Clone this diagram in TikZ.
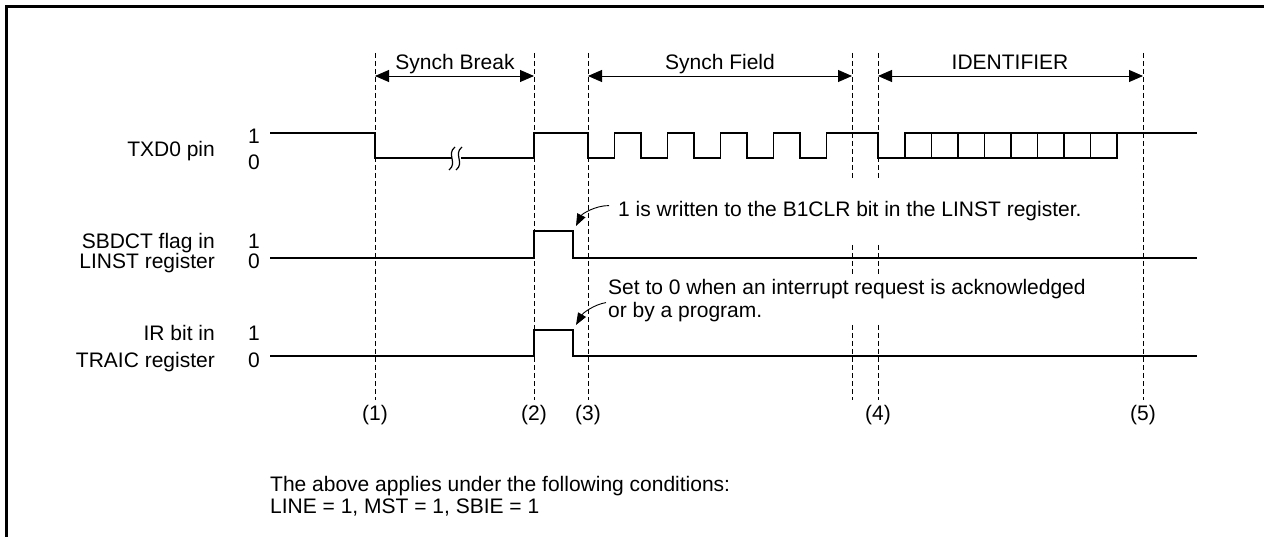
\documentclass[tikz,border=0pt]{standalone}
\usepackage{fontspec}
\setmainfont{Liberation Sans}
\usetikzlibrary{arrows.meta}
\tikzset{
    wave/.style={line width=1.4pt, line join=miter},
    guide/.style={line width=0.9pt, dash pattern=on 5pt off 3pt},
    span/.style={line width=0.9pt, {Triangle[length=14pt,width=12pt]}-{Triangle[length=14pt,width=12pt]}},
    callout/.style={line width=0.9pt, -{Triangle[length=12pt,width=9pt]}},
    txt/.style={inner sep=0pt, font=\fontsize{21}{23}\selectfont}
}

\begin{document}
\begin{tikzpicture}[x=1pt, y=-1pt]
    \useasboundingbox (0,0) rectangle (1264,537);
    \clip (0,0) rectangle (1264,537);
    \draw[line width=3pt] (6,545) -- (6,7) -- (1270,7);

    % guide lines
    \foreach \x in {375,534,588,1143}
        \draw[guide] (\x,53) -- (\x,400);
    \foreach \x in {852,878}
        \draw[guide] (\x,53) -- (\x,178) (\x,245) -- (\x,275) (\x,325) -- (\x,400);
    \foreach \x/\n in {375/1,534/2,588/3,878/4,1143/5}
        \node[txt] (mark\n) at (\x,415) {(\n)};

    % frame spans
    \coordinate (brkL) at (375,76);
    \coordinate (brkR) at (534,76);
    \coordinate (synL) at (588,76);
    \coordinate (synR) at (852,76);
    \coordinate (idL) at (878,76);
    \coordinate (idR) at (1143,76);
    \draw[span] (brkL) -- (brkR);
    \draw[span] (synL) -- (synR);
    \draw[span] (idL) -- (idR);
    \node[txt, anchor=base] (brk) at (455,70) {Synch Break};
    \node[txt, anchor=base] (syn) at (720,70) {Synch Field};
    \node[txt, anchor=base] (ident) at (1010,70) {IDENTIFIER};

    % signal names
    \node[txt, anchor=base east] (txd) at (215,157) {TXD0 pin};
    \node[txt, anchor=base] (txdhi) at (254,144) {1};
    \node[txt, anchor=base] (txdlo) at (254,170) {0};
    \node[txt, anchor=base east] (sbd) at (215,249) {SBDCT flag in};
    \node[txt, anchor=base east] (sbdreg) at (215,269) {LINST register};
    \node[txt, anchor=base] (sbdhi) at (254,249) {1};
    \node[txt, anchor=base] (sbdlo) at (254,269) {0};
    \node[txt, anchor=base east] (ir) at (215,341) {IR bit in};
    \node[txt, anchor=base east] (irreg) at (215,367) {TRAIC register};
    \node[txt, anchor=base] (irhi) at (254,341) {1};
    \node[txt, anchor=base] (irlo) at (254,367) {0};

    % TXD0
    \draw[wave] (270,133) -- (375,133) -- (375,158) -- (452,158);
    \draw[wave] (461,158) -- (534,158) -- (534,133) -- (588,133) -- (588,158)
        \foreach \k in {1,...,4} { -- ++(26.5,0) -- ++(0,-25) -- ++(26.5,0) -- ++(0,25) }
        -- (826.5,158) -- (826.5,133) -- (878,133) -- (878,158) -- (1117,158)
        -- (1117,133) -- (1197,133);
    \draw[wave] (905,158) -- (905,133) -- (1117,133);
    \foreach \k in {1,...,7}
        \draw[wave] ({905+26.5*\k},133) -- ++(0,25);
    \draw[line width=1.2pt] (449,170) .. controls (458,163) and (446,154) .. (455,147);
    \draw[line width=1.2pt] (456,170) .. controls (465,163) and (453,154) .. (462,147);

    % SBDCT and IR
    \draw[wave] (270,258) -- (534,258) -- (534,231) -- (573,231) -- (573,258) -- (1197,258);
    \draw[wave] (270,356) -- (534,356) -- (534,330) -- (573,330) -- (573,356) -- (1197,356);

    % notes
    \node[txt, anchor=base west] (noteclr) at (618,217) {1 is written to the B1CLR bit in the LINST register.};
    \node[txt, anchor=base west] (noteirq) at (608,295) {Set to 0 when an interrupt request is acknowledged};
    \node[txt, anchor=base west] (noteirqb) at (608,318) {or by a program.};
    \coordinate (tipclr) at (576,226);
    \coordinate (tipirq) at (576,325);
    \draw[callout] ([shift={(-9,-6)}]noteclr.west) .. controls +(-14,0) and +(6,-12) .. (tipclr);
    \draw[callout] ([xshift=-2pt]noteirqb.north west) .. controls +(-12,2) and +(7,-12) .. (tipirq);

    \node[txt, anchor=base west] (cond) at (270,491) {The above applies under the following conditions:};
    \node[txt, anchor=base west] (condb) at (270,513) {LINE = 1, MST = 1, SBIE = 1};
\end{tikzpicture}
\end{document}
